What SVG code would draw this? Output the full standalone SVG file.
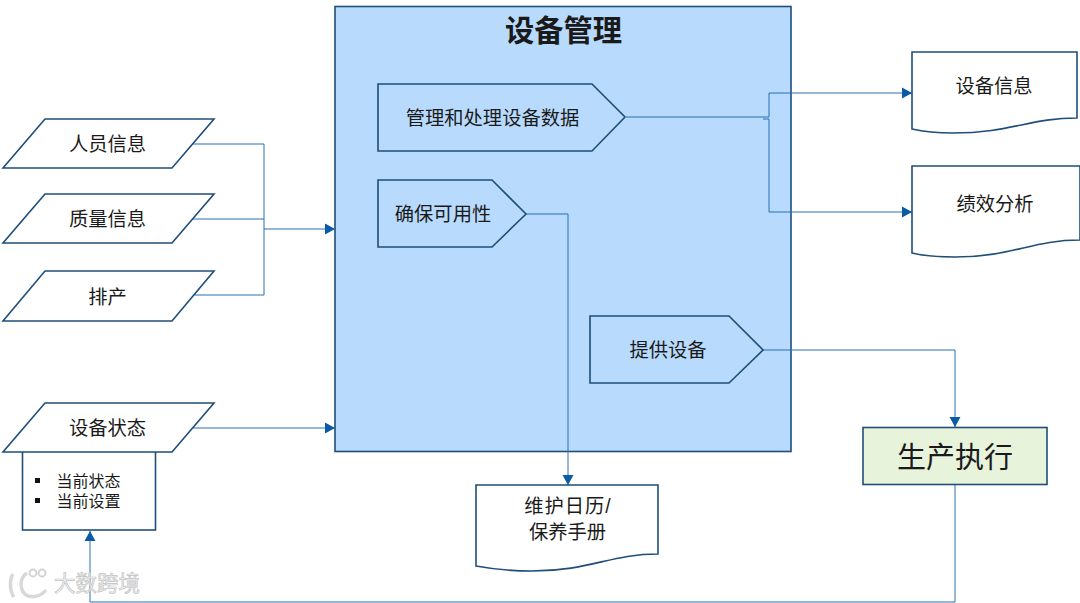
<svg xmlns="http://www.w3.org/2000/svg" width="1080" height="603" viewBox="0 0 1080 603">
<style>
text{font-family:"Liberation Sans","Noto Sans CJK SC",sans-serif;fill:#1a1a1a;text-anchor:middle}
.s{fill:#fff;stroke:#1f4e79;stroke-width:1.6}
.b{fill:#b8dbfd;stroke:#1f4e79;stroke-width:1.6}
.c{fill:none;stroke:#2a6fb0;stroke-width:1}
.t{font-size:19.3px}
</style>
<defs>
<marker id="a" markerUnits="userSpaceOnUse" markerWidth="11" markerHeight="12" refX="10" refY="6" orient="auto"><path d="M0,0.500L10,6L0,11.500Z" fill="#0b5aa5"/></marker>
</defs>
<rect width="1080" height="603" fill="#fff"/>
<g id="main"><rect class="b" x="335" y="6.500" width="456" height="445"/><text x="563.500" y="41" font-weight="bold" style="font-size:29.300px">设备管理</text></g>
<g id="connectors">
<path class="c" d="M192,144H264V295H192M192,219H264M264,229H335" marker-end="url(#a)"/>
<path class="c" d="M177,428H335" marker-end="url(#a)"/>
<path class="c" d="M626,117H769V93H912" marker-end="url(#a)"/>
<path class="c" d="M763,119H769V212H912" marker-end="url(#a)"/>
<path class="c" d="M526,214H568V485" marker-end="url(#a)"/>
<path class="c" d="M763,350H955V427" marker-end="url(#a)"/>
<path class="c" d="M955,485V602H90V531" marker-end="url(#a)"/>
</g>
<g id="n1"><path class="s" d="M45,119H214L172,168H3Z"/><text class="t" x="107.500" y="151">人员信息</text></g>
<g id="n2"><path class="s" d="M45,194H214L172,243H3Z"/><text class="t" x="107.500" y="226">质量信息</text></g>
<g id="n3"><path class="s" d="M45,271H214L172,321H3Z"/><text class="t" x="107.500" y="304">排产</text></g>
<g id="n4-detail"><rect class="s" x="22.500" y="450" width="133" height="80"/><rect x="35" y="478" width="5" height="5" fill="#111"/><rect x="35" y="498" width="5" height="5" fill="#111"/><text x="88.500" y="487" style="font-size:16px">当前状态</text><text x="88.500" y="507" style="font-size:16px">当前设置</text></g>
<g id="n4"><path class="s" d="M45,403H214L172,452H3Z"/><text class="t" x="107.500" y="435">设备状态</text></g>
<g id="p1"><path class="b" d="M378,84H592L625,117L592,151H378Z"/><text class="t" x="492.500" y="125">管理和处理设备数据</text></g>
<g id="p2"><path class="b" d="M378,180H492L526,214L492,247H378Z"/><text class="t" x="443" y="221">确保可用性</text></g>
<g id="p3"><path class="b" d="M590,316H729L763,350L729,383H590Z"/><text class="t" x="668" y="357">提供设备</text></g>
<g id="d1"><path class="s" d="M912,52H1077V118C1030,118 1010,133 953,133C935,133 925,132 912,129Z"/><text class="t" x="994" y="93">设备信息</text></g>
<g id="d2"><path class="s" d="M912,166H1080V240C1032,240 1012,257 955,257C937,257 925,256 912,253Z"/><text class="t" x="995" y="211">绩效分析</text></g>
<g id="d3"><path class="s" d="M476,485H658V554C610,554 590,571 532,571C512,571 492,569 476,566Z"/><text class="t" x="568" y="513" style="letter-spacing:1px">维护日历/</text><text class="t" x="567.500" y="539">保养手册</text></g>
<g id="exec"><rect x="863" y="427.500" width="184" height="57" fill="#e8f3dc" stroke="#1f4e79" stroke-width="1.6"/><text x="955" y="468" style="font-size:29px">生产执行</text></g>
<g id="watermark"><text x="97" y="591" style="font-size:21.500px;fill:#f2f2f2;stroke:#c4c4c4;stroke-width:.7">大数跨境</text><path d="M13,574C9,580 10,592 14,597M27,573C19,578 19,592 28,596C36,598 42,595 46,590" fill="none" stroke="#d8d8d8" stroke-width="3.500"/><circle cx="33" cy="573" r="3.500" fill="none" stroke="#d0d0d0" stroke-width="1.800"/><circle cx="42" cy="573" r="3.500" fill="none" stroke="#d0d0d0" stroke-width="1.800"/></g>
</svg>
